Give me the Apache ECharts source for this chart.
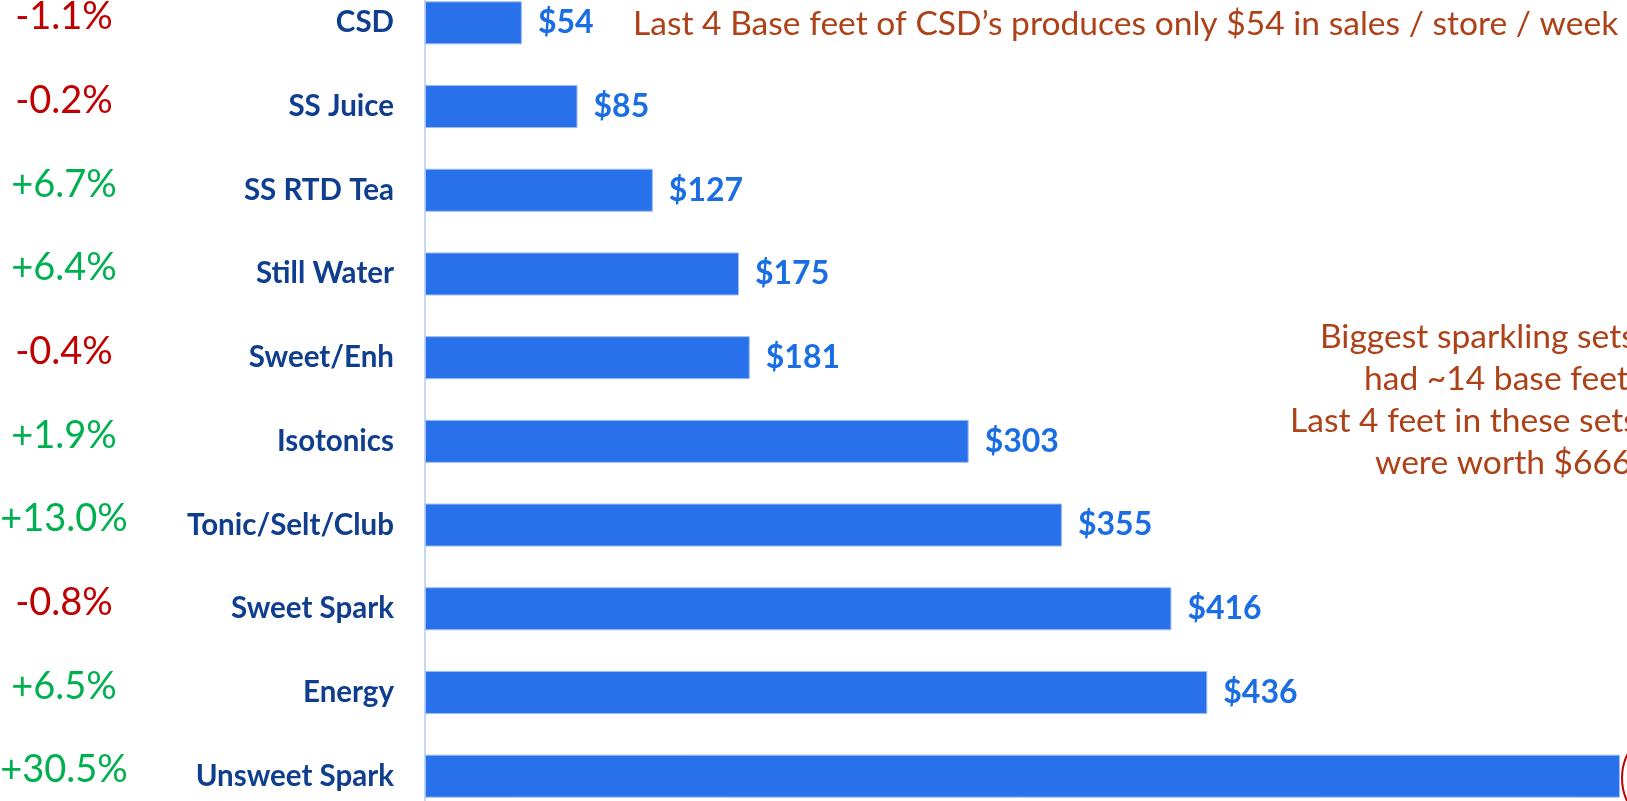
<!DOCTYPE html>
<html>
<head>
<meta charset="utf-8">
<script src="https://cdn.jsdelivr.net/npm/echarts@6/dist/echarts.min.js"></script>
<style>
html,body{margin:0;padding:0;background:#fff;}
#chart{width:1627px;height:801px;}
</style>
</head>
<body>
<div id="chart"></div>
<script>
// data
var categories = ['CSD','SS Juice','SS RTD Tea','Still Water','Sweet/Enh','Isotonics','Tonic/Selt/Club','Sweet Spark','Energy','Unsweet Spark'];
var salesPerWeek = [54, 85, 127, 175, 181, 303, 355, 416, 436, 666];
var pctChange = ['-1.1%','-0.2%','+6.7%','+6.4%','-0.4%','+1.9%','+13.0%','-0.8%','+6.5%','+30.5%'];
var noteTop = 'Last 4 Base feet of CSD\u2019s produces only $54 in sales / store / week';
var noteRight = ['Biggest sparkling sets', 'had ~14 base feet.', 'Last 4 feet in these sets', 'were worth $666'];
var noteRightX = [1320, 1364, 1290, 1375];

var FONT = 'Lato';
var chart = echarts.init(document.getElementById('chart'));

var noteGraphics = noteRight.map(function (line, i) {
    return {
        type: 'text',
        x: noteRightX[i],
        y: 337 + i * 42,
        style: {
            text: line,
            fill: '#ad4117',
            font: '33.6px Lato',
            align: 'left',
            verticalAlign: 'middle'
        }
    };
});

var option = {
    animation: false,
    grid: {
        left: 425,
        top: -19,
        width: 1256,
        height: 837,
        outerBoundsMode: 'none'
    },
    xAxis: {
        type: 'value',
        min: 0,
        max: 700,
        show: false
    },
    yAxis: [
        {
            type: 'category',
            data: categories,
            inverse: true,
            axisTick: {show: false},
            axisLine: {lineStyle: {color: '#c6d9f1', width: 2}},
            axisLabel: {
                margin: 31,
                color: '#103e8f',
                fontFamily: FONT,
                fontWeight: 'bold',
                fontSize: 29.5
            }
        },
        {
            type: 'category',
            data: categories,
            inverse: true,
            position: 'left',
            axisTick: {show: false},
            axisLine: {show: false},
            axisLabel: {
                margin: 361,
                align: 'center',
                fontFamily: FONT,
                fontSize: 38,
                padding: [0, 0, 12, 0],
                formatter: function (v, i) {
                    var p = pctChange[i];
                    return p.charAt(0) === '-' ? '{neg|' + p + '}' : '{pos|' + p + '}';
                },
                rich: {
                    neg: {color: '#c00000', fontFamily: FONT, fontSize: 38},
                    pos: {color: '#00b050', fontFamily: FONT, fontSize: 38}
                }
            }
        }
    ],
    series: [
        {
            type: 'bar',
            data: salesPerWeek,
            barWidth: 43,
            itemStyle: {color: '#2971eb', borderColor: '#9cbcf3', borderWidth: 1},
            label: {
                show: true,
                position: 'right',
                distance: 16,
                color: '#1a6de3',
                fontFamily: FONT,
                fontWeight: 'bold',
                fontSize: 32,
                padding: [6, 0, 0, 0],
                formatter: '${c}'
            }
        }
    ],
    graphic: [
        {
            type: 'text',
            left: 633,
            top: 7,
            style: {
                text: noteTop,
                fill: '#ad4117',
                font: '33.6px Lato'
            }
        },
        {
            type: 'ellipse',
            shape: {cx: 1682, cy: 778, rx: 60, ry: 56},
            style: {fill: 'none', stroke: '#c00000', lineWidth: 2}
        }
    ].concat(noteGraphics)
};
chart.setOption(option);
</script>
</body>
</html>
